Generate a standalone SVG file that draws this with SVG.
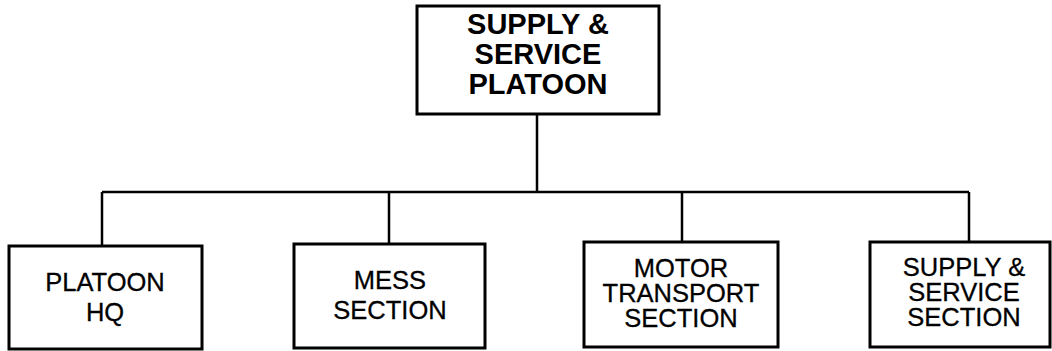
<svg xmlns="http://www.w3.org/2000/svg" width="1052" height="351" viewBox="0 0 1052 351">
<style>
.box{fill:#fff;stroke:#000;stroke-width:3}
.ln{fill:none;stroke:#000;stroke-width:2.5}
.t{font-family:"Liberation Sans",Arial,sans-serif;font-size:25.5px;fill:#000;text-anchor:middle;stroke:#000;stroke-width:0.3}
.tb{font-family:"Liberation Sans",Arial,sans-serif;font-size:29px;font-weight:bold;fill:#000;text-anchor:middle}
</style>
<rect width="1052" height="351" fill="#fff"/>
<g id="connectors">
<path class="ln" d="M537 114V192M102 192H969M102 192V246M389 192V244M682 192V242M969 192V242"/>
</g>
<g id="top">
<rect class="box" x="417" y="6" width="242" height="108"/>
<text class="tb" x="538" y="34">SUPPLY &amp;</text>
<text class="tb" x="538" y="64">SERVICE</text>
<text class="tb" x="538" y="94">PLATOON</text>
</g>
<g id="hq">
<rect class="box" x="9" y="246" width="193" height="103"/>
<text class="t" x="105" y="291">PLATOON</text>
<text class="t" x="105" y="321">HQ</text>
</g>
<g id="mess">
<rect class="box" x="294" y="244" width="191" height="104"/>
<text class="t" x="390" y="289">MESS</text>
<text class="t" x="390" y="319">SECTION</text>
</g>
<g id="motor">
<rect class="box" x="584" y="242" width="194" height="105"/>
<text class="t" x="681" y="277">MOTOR</text>
<text class="t" x="681" y="302">TRANSPORT</text>
<text class="t" x="681" y="327">SECTION</text>
</g>
<g id="supply">
<rect class="box" x="870" y="242" width="180" height="105"/>
<text class="t" x="964" y="276">SUPPLY &amp;</text>
<text class="t" x="964" y="301">SERVICE</text>
<text class="t" x="964" y="326">SECTION</text>
</g>
</svg>
